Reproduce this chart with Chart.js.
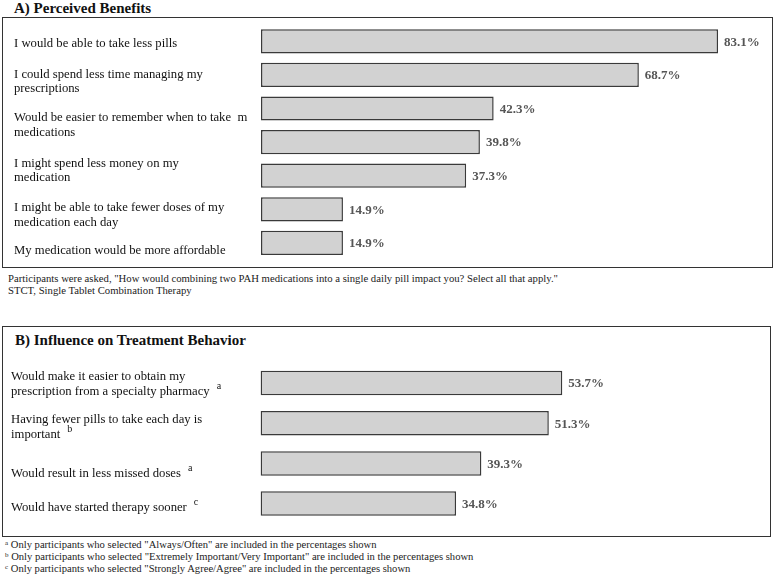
<!DOCTYPE html>
<html>
<head>
<meta charset="utf-8">
<script src="https://cdn.jsdelivr.net/npm/chart.js@4.4.1/dist/chart.umd.min.js"></script>
<style>
  html, body { margin: 0; padding: 0; background: #fff; }
  body { width: 776px; height: 576px; position: relative; overflow: hidden;
         font-family: "Liberation Serif", "Times New Roman", serif; color: #111; }
  .title { position: absolute; font-weight: bold; font-size: 15px; line-height: 16px; white-space: nowrap; }
  .box { position: absolute; box-sizing: border-box; border: 1.5px solid #333; }
  .note { position: absolute; font-size: 10.7px; line-height: 12px; white-space: nowrap; color: #222; }
  .fn { position: absolute; font-size: 10.6px; line-height: 12px; white-space: nowrap; color: #222; }
  .fn sup { font-size: 7px; vertical-align: 3px; line-height: 0; }
  canvas { position: absolute; }
</style>
</head>
<body>
<div class="title" style="left:14px; top:0px;">A) Perceived Benefits</div>
<div class="box" style="left:2px; top:17px; width:771px; height:251px;"></div>
<canvas id="chartA" width="768" height="248" style="left:3px; top:18px;"></canvas>
<div class="note" style="left:8px; top:272px;">Participants were asked, "How would combining two PAH medications into a single daily pill impact you? Select all that apply."</div>
<div class="note" style="left:8px; top:284px;">STCT, Single Tablet Combination Therapy</div>

<div class="box" style="left:2px; top:326px; width:769px; height:211px;"></div>
<div class="title" style="left:15px; top:332px;">B) Influence on Treatment Behavior</div>
<canvas id="chartB" width="766" height="208" style="left:3px; top:327px;"></canvas>
<div class="fn" style="left:5px; top:539px;"><sup>a</sup> Only participants who selected "Always/Often" are included in the percentages shown</div>
<div class="fn" style="left:5px; top:551px;"><sup>b</sup> Only participants who selected "Extremely Important/Very Important" are included in the percentages shown</div>
<div class="fn" style="left:5px; top:563px;"><sup>c</sup> Only participants who selected "Strongly Agree/Agree" are included in the percentages shown</div>

<script>
"use strict";

// Panel A data
var benefitLabels = [
    ['I would be able to take less pills'],
    ['I could spend less time managing my', 'prescriptions'],
    ['Would be easier to remember when to take  m', 'medications'],
    [''], // the source figure has no label for this bar
    ['I might spend less money on my', 'medication'],
    ['I might be able to take fewer doses of my', 'medication each day'],
    ['My medication would be more affordable']
];
var benefitValues = [83.1, 68.7, 42.3, 39.8, 37.3, 14.9, 14.9];

// Panel B data
var behaviorLabels = [
    ['Would make it easier to obtain my', 'prescription from a specialty pharmacy'],
    ['Having fewer pills to take each day is', 'important'],
    ['Would result in less missed doses'],
    ['Would have started therapy sooner']
];
var behaviorNotes = ['a', 'b', 'a', 'c'];
var behaviorValues = [53.7, 51.3, 39.3, 34.8];

var FONT = '"Liberation Serif", "Times New Roman", serif';

// Draws the category text on the left, left aligned like the original slide
var sideLabels = {
    id: 'sideLabels',
    afterDraw: function (chart, args, opts) {
        var ctx = chart.ctx;
        var yScale = chart.scales.y;
        var labels = chart.data.labels;
        var lh = opts.lineHeight;
        ctx.save();
        ctx.fillStyle = '#111';
        ctx.textBaseline = 'middle';
        ctx.textAlign = 'left';
        labels.forEach(function (lines, i) {
            if (lines.join('') === '') return;
            var y = yScale.getPixelForValue(i);
            // a label followed by an empty one sits between the two bars
            var next = labels[i + 1];
            if (next && next.join('') === '') {
                y = (y + yScale.getPixelForValue(i + 1)) / 2;
            }
            y += opts.nudge[i] || 0; // text boxes in the source are a bit off
            var top = y - (lines.length - 1) * lh / 2;
            ctx.font = '12.7px ' + FONT;
            lines.forEach(function (line, k) {
                ctx.fillText(line, opts.x, top + k * lh);
            });
            var note = opts.notes ? opts.notes[i] : null;
            if (note) {
                var last = lines[lines.length - 1];
                var w = ctx.measureText(last).width;
                ctx.font = '10px ' + FONT;
                ctx.fillText(note, opts.x + w + 7, top + (lines.length - 1) * lh - 5);
            }
        });
        ctx.restore();
    }
};

// Percentage text at the end of each bar
var valueLabels = {
    id: 'valueLabels',
    afterDatasetsDraw: function (chart) {
        var ctx = chart.ctx;
        var meta = chart.getDatasetMeta(0);
        var data = chart.data.datasets[0].data;
        ctx.save();
        ctx.font = 'bold 13px ' + FONT;
        ctx.fillStyle = '#555';
        ctx.textBaseline = 'middle';
        ctx.textAlign = 'left';
        meta.data.forEach(function (bar, i) {
            ctx.fillText(data[i].toFixed(1) + '%', bar.x + 6, bar.y + 1);
        });
        ctx.restore();
    }
};

function makeChart(id, labels, values, xMax, padding, barPct, labelOpts) {
    var ctx = document.getElementById(id).getContext('2d');
    return new Chart(ctx, {
        type: 'bar',
        data: {
            labels: labels,
            datasets: [{
                data: values,
                backgroundColor: '#d2d2d2',
                borderColor: '#3a3a3a',
                borderWidth: 1.5,
                borderSkipped: false,
                barPercentage: barPct,
                categoryPercentage: 1
            }]
        },
        options: {
            indexAxis: 'y',
            responsive: false,
            animation: false,
            devicePixelRatio: 1,
            layout: { padding: padding },
            scales: {
                x: { type: 'linear', min: 0, max: xMax, display: false },
                y: { type: 'category', display: false }
            },
            plugins: {
                legend: { display: false },
                tooltip: { enabled: false },
                sideLabels: labelOpts
            }
        },
        plugins: [sideLabels, valueLabels]
    });
}

makeChart('chartA', benefitLabels, benefitValues, 92,
    { left: 258, right: 4, top: 6.5, bottom: 6.3 }, 0.72,
    { x: 11, lineHeight: 14.5, nudge: [2, 7, 0, 0, -5, 6, 8] });

makeChart('chartB', behaviorLabels, behaviorValues, 90,
    { left: 257.5, right: 2.7, top: 35.9, bottom: 11.3 }, 0.61,
    { x: 8, lineHeight: 15, notes: behaviorNotes, nudge: [1, 4, 10, 4] });
</script>
</body>
</html>
